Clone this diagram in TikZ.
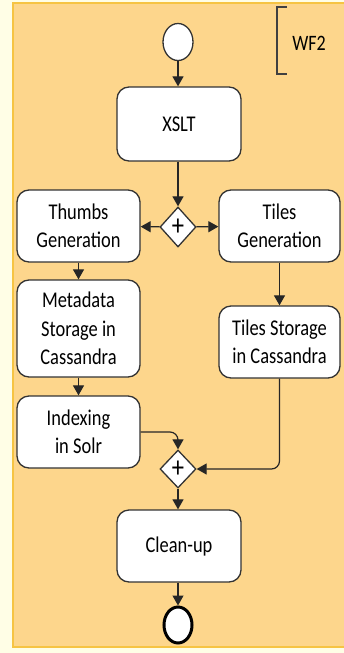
\documentclass[tikz,border=0pt]{standalone}
\usepackage{fontspec}
\setmainfont{Carlito}[FakeStretch=0.82]
\usepackage{xcolor}
\usepackage{tikz}
\usetikzlibrary{shapes.geometric, arrows.meta, positioning}

\definecolor{pagebg}{HTML}{FFFEE6}
\definecolor{panelbg}{HTML}{FDD68C}
\definecolor{panelline}{HTML}{F6C443}
\definecolor{boxline}{HTML}{333333}

\tikzset{
    act/.style={draw=boxline, fill=white, line width=1.3pt, rounded corners=12pt,
        align=center, inner sep=0pt, font=\fontsize{22.5}{28.5}\selectfont},
    gate/.style={draw=boxline, fill=white, diamond, line width=1.3pt, inner sep=0pt,
        font=\fontsize{30}{30}\selectfont},
    flow/.style={->, line width=1.2pt, draw=black!85, rounded corners=8pt}
}

\begin{document}
\begin{tikzpicture}[x=1pt, y=-1pt, >={Triangle[length=10pt, width=11pt]}]
        % Page and workflow panel
        \useasboundingbox (0,0) rectangle (344,653);
        \fill[pagebg] (0,0) rectangle (344,653);
        \draw[fill=panelbg, draw=panelline, line width=2pt] (13,3) rectangle (350,647);

        % Workflow label
        \draw[line width=1.2pt, black!75] (287,7) -- (277,7) -- (277,74) -- (287,74);
        \node[font=\fontsize{22}{22}\selectfont] (wf) at (309,43) {WF2};

        % Start, first activity and fork
        \node[draw=boxline, fill=white, ellipse, line width=1.3pt, minimum width=30, minimum height=37] (start) at (178,42) {};
        \node[act, minimum width=124, minimum height=74] (xslt) at (179,124) {XSLT};
        \node[gate, minimum width=36, minimum height=40] (fork) at (178,227) {+};

        % Left branch
        \node[act, minimum width=123, minimum height=72] (thumbs) at (78.5,226) {Thumbs\\Generation};
        \node[act, minimum width=123, minimum height=97] (meta) at (78.5,328.5) {Metadata\\Storage in\\Cassandra};
        \node[act, minimum width=123, minimum height=72] (index) at (78.5,432) {Indexing\\in Solr};

        % Right branch
        \node[act, minimum width=121, minimum height=72] (tiles) at (279.5,226) {Tiles\\Generation};
        \node[act, minimum width=121, minimum height=72] (tstore) at (279.5,342) {Tiles Storage\\in Cassandra};

        % Join, last activity and end
        \node[gate, minimum width=36, minimum height=38] (join) at (178,469) {+};
        \node[act, minimum width=124, minimum height=72] (clean) at (179,546) {Clean-up};
        \node[draw=black, fill=white, ellipse, line width=3pt, minimum width=28, minimum height=36] (end) at (178,625) {};

        % Flows
        \draw[flow] (start) -- (xslt.north -| start);
        \draw[flow] (xslt.south -| fork) -- (fork);
        \draw[flow] (fork) -- (thumbs);
        \draw[flow] (fork) -- (tiles);
        \draw[flow] (thumbs) -- (meta);
        \draw[flow] (meta) -- (index);
        \draw[flow] (tiles) -- (tstore);
        \draw[flow] (index.east) -| (join.north);
        \draw[flow] (tstore.south) |- (join.east);
        \draw[flow] (join) -- (clean.north -| join);
        \draw[flow] (clean.south -| end) -- (end);
    \end{tikzpicture}
\end{document}
